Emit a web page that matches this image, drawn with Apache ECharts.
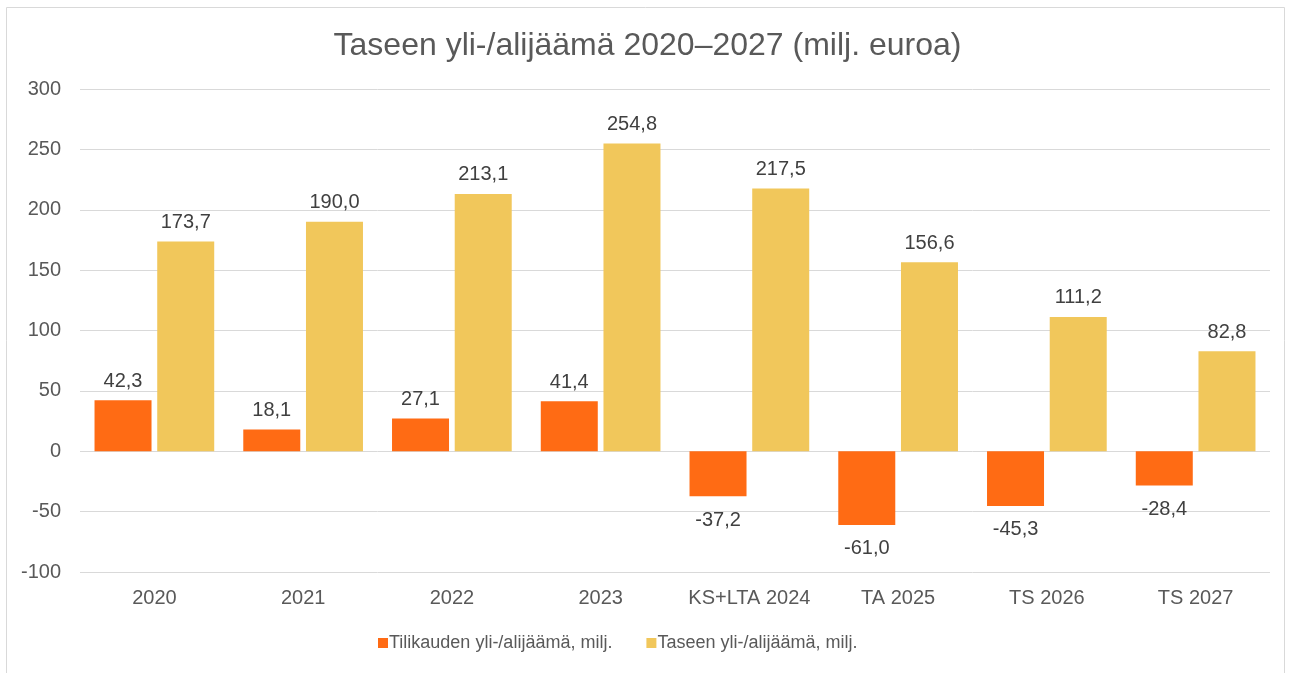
<!DOCTYPE html>
<html><head><meta charset="utf-8">
<script src="https://cdn.jsdelivr.net/npm/echarts@6/dist/echarts.min.js"></script>
<style>html,body{margin:0;padding:0;background:#fff}#c{width:1295px;height:673px}</style>
</head><body><div id="c"></div>
<script>
const categories = ['2020','2021','2022','2023','KS+LTA 2024','TA 2025','TS 2026','TS 2027'];
const tilikausi = [42.3, 18.1, 27.1, 41.4, -37.2, -61.0, -45.3, -28.4];
const tase = [173.7, 190.0, 213.1, 254.8, 217.5, 156.6, 111.2, 82.8];
const seriesNames = ['Tilikauden yli-/alijäämä, milj.', 'Taseen yli-/alijäämä, milj.'];
const titleText = 'Taseen yli-/alijäämä 2020–2027 (milj. euroa)';

const FONT = 'Liberation Sans';
const TXT = '#595959';
const fmt = v => v.toFixed(1).replace('.', ',');
const mk = arr => arr.map(v => ({value: v, label: {position: v < 0 ? 'bottom' : 'top', distance: v < 0 ? 14 : 9}}));

const chart = echarts.init(document.getElementById('c'));
chart.setOption({
  animation: false,
  textStyle: {fontFamily: FONT},
  graphic: [{type: 'rect', shape: {x: 6.5, y: 7.5, width: 1278, height: 700}, style: {fill: 'none', stroke: '#d9d9d9', lineWidth: 1}, silent: true}],
  title: {text: titleText, left: 'center', top: 25, textStyle: {fontFamily: FONT, fontSize: 32, fontWeight: 'normal', color: TXT}},
  legend: {bottom: 16, left: 373, itemWidth: 10, itemHeight: 10, itemGap: 34, icon: 'rect',
    textStyle: {fontFamily: FONT, fontSize: 18, color: TXT, padding: [0, 0, 0, -4]}},
  grid: {left: 80, right: 25, top: 89, bottom: 101, containLabel: false},
  xAxis: {type: 'category', data: categories, axisTick: {show: false},
    axisLine: {show: false}, axisLabel: {interval: 0, fontFamily: FONT, fontSize: 20, color: TXT, margin: 16}},
  yAxis: {type: 'value', min: -100, max: 300, interval: 50,
    axisLabel: {fontFamily: FONT, fontSize: 20, color: TXT, margin: 19},
    splitLine: {lineStyle: {color: '#d9d9d9', width: 1}}},
  series: [
    {name: seriesNames[0], type: 'bar', data: mk(tilikausi), barWidth: 57, barGap: '10%',
      itemStyle: {color: '#FF6B14'},
      label: {show: true, fontFamily: FONT, fontSize: 20, color: '#404040', formatter: p => fmt(p.value)}},
    {name: seriesNames[1], type: 'bar', data: mk(tase), barWidth: 57,
      itemStyle: {color: '#F1C75B'},
      label: {show: true, fontFamily: FONT, fontSize: 20, color: '#404040', formatter: p => fmt(p.value)}}
  ]
});
</script></body></html>
